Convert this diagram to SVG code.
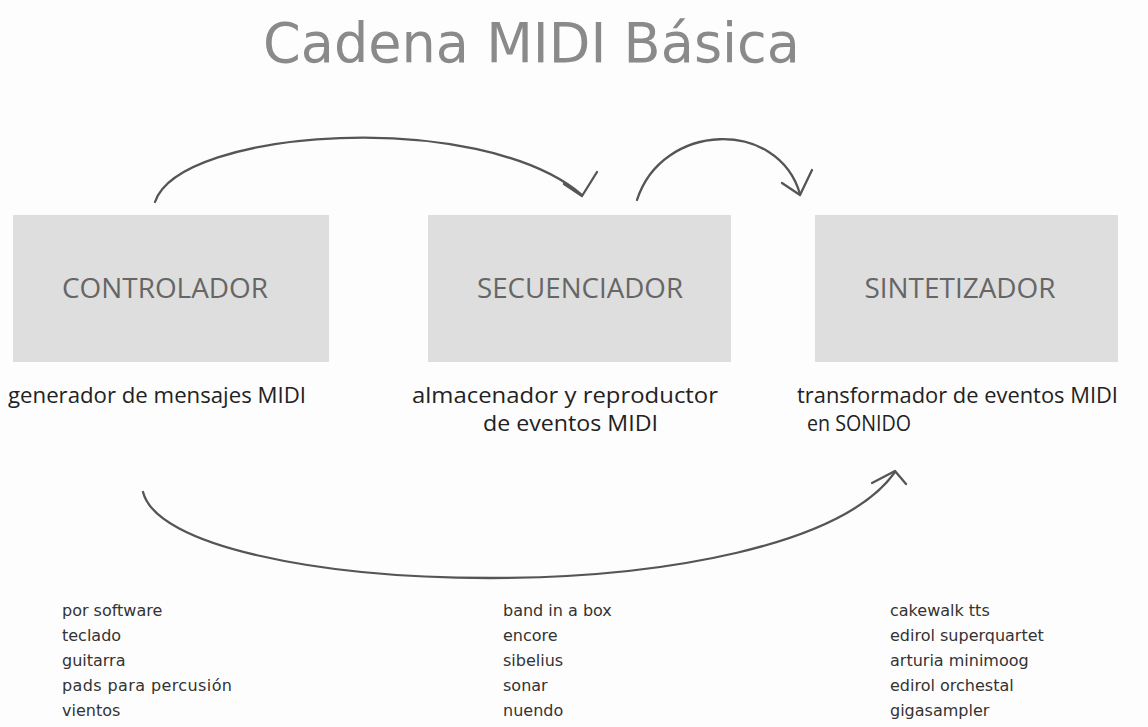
<svg xmlns="http://www.w3.org/2000/svg" width="1148" height="727" viewBox="0 0 1148 727">
<style>
.box{fill:#dedede}
.bl{font-family:"Open Sans","Liberation Sans",sans-serif;font-size:27px;fill:#666;text-anchor:middle}
.lab{font-family:"Open Sans","Liberation Sans",sans-serif;font-size:21px;fill:#222}
.lst{font-family:"DejaVu Sans","Liberation Sans",sans-serif;font-size:16px;fill:#333}
.con{fill:none;stroke:#555;stroke-width:2.3;stroke-linecap:round;stroke-linejoin:round}
</style>
<rect width="1148" height="727" fill="#fdfdfd"/>
<text x="263" y="62" font-family="DejaVu Sans, Verdana, sans-serif" font-size="56" fill="#8a8a8a" textLength="537" lengthAdjust="spacingAndGlyphs">Cadena MIDI Básica</text>
<g id="controlador">
<rect class="box" x="13" y="215" width="316" height="147"/>
<text class="bl" x="165" y="298" textLength="206" lengthAdjust="spacingAndGlyphs">CONTROLADOR</text>
<text class="lab" x="8" y="403" textLength="298" lengthAdjust="spacingAndGlyphs">generador de mensajes MIDI</text>
<g class="lst"><text x="62" y="616">por software</text><text x="62" y="641">teclado</text><text x="62" y="666">guitarra</text><text x="62" y="691" textLength="170">pads para percusión</text><text x="62" y="716">vientos</text></g>
</g>
<g id="secuenciador">
<rect class="box" x="428" y="215" width="303" height="147"/>
<text class="bl" x="580" y="298" textLength="206" lengthAdjust="spacingAndGlyphs">SECUENCIADOR</text>
<text class="lab" x="412" y="403" textLength="306" lengthAdjust="spacingAndGlyphs">almacenador y reproductor</text>
<text class="lab" x="483" y="431" textLength="175" lengthAdjust="spacingAndGlyphs">de eventos MIDI</text>
<g class="lst"><text x="503" y="616">band in a box</text><text x="503" y="641">encore</text><text x="503" y="666">sibelius</text><text x="503" y="691">sonar</text><text x="503" y="716">nuendo</text></g>
</g>
<g id="sintetizador">
<rect class="box" x="815" y="215" width="303" height="147"/>
<text class="bl" x="960" y="298" textLength="191" lengthAdjust="spacingAndGlyphs">SINTETIZADOR</text>
<text class="lab" x="797" y="403" textLength="321" lengthAdjust="spacingAndGlyphs">transformador de eventos MIDI</text>
<text class="lab" x="807" y="431" textLength="104" lengthAdjust="spacingAndGlyphs">en SONIDO</text>
<g class="lst"><text x="890" y="616">cakewalk tts</text><text x="890" y="641">edirol superquartet</text><text x="890" y="666">arturia minimoog</text><text x="890" y="691">edirol orchestal</text><text x="890" y="716">gigasampler</text></g>
</g>
<g id="connectors" class="con">
<path d="M155 202 C180 128 480 108 582 195"/>
<path d="M564 184 L582 196 L597 172"/>
<path d="M637 200 C662 122 778 118 800 194"/>
<path d="M782 183 L800 195 L812 170"/>
<path d="M143 492 C170 600 790 620 895 472"/>
<path d="M872 483 L895 471 L906 484"/>
</g>
</svg>
